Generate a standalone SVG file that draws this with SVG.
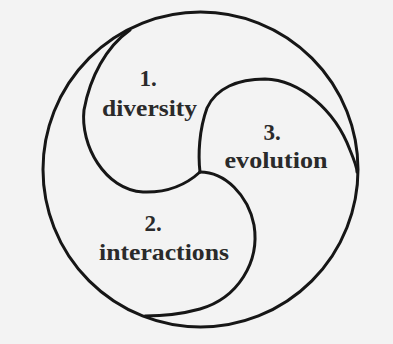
<svg xmlns="http://www.w3.org/2000/svg" width="393" height="344" viewBox="0 0 393 344">
<style>
.ln{fill:none;stroke:#161616;stroke-width:3;stroke-linecap:round;stroke-linejoin:round}
.t{font-family:'Liberation Serif',serif;font-weight:700;font-size:23px;fill:#2a2a2a;text-anchor:middle}
</style>
<rect width="393" height="344" fill="#f3f3f3"/>
<g id="outer">
<circle class="ln" cx="200.5" cy="169.5" r="157.5"/>
</g>
<g id="connectors">
<path id="c1" class="ln" d="M130,30 C106,47 90,77 84,110 C80,145 105,190 143,192 C170,193 188,183 200,172"/>
<path id="c3" class="ln" d="M200,172 C198,155 199,130 207,108 C216,88 238,79 265,79 C300,80 335,110 350,150 C355,162 357,168 357,172"/>
<path id="c2" class="ln" d="M200,172 C225,172 248,195 254,225 C260,262 238,298 200,309 C178,315 158,316 145,316"/>
</g>
<g id="diversity">
<text class="t" x="148" y="86">1.</text>
<text class="t" x="149.5" y="116" textLength="95" lengthAdjust="spacingAndGlyphs">diversity</text>
</g>
<g id="evolution">
<text class="t" x="272" y="140">3.</text>
<text class="t" x="276" y="168" textLength="103" lengthAdjust="spacingAndGlyphs">evolution</text>
</g>
<g id="interactions">
<text class="t" x="153" y="231">2.</text>
<text class="t" x="164" y="260" textLength="130" lengthAdjust="spacingAndGlyphs">interactions</text>
</g>
</svg>
